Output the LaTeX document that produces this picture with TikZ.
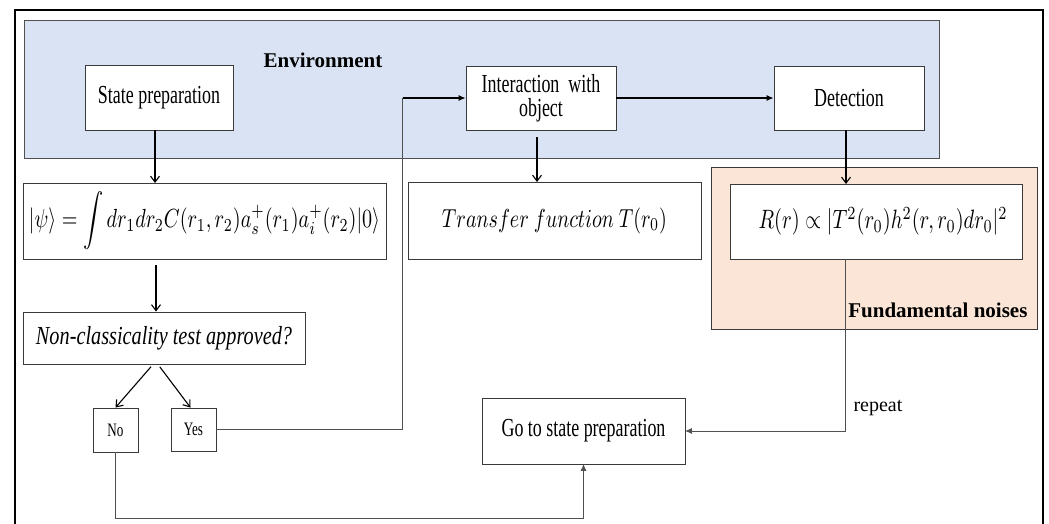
\documentclass[tikz,border=0pt]{standalone}
\usepackage{amsmath}
\usepackage{fontspec}
\setmainfont{Liberation Serif}
\newfontfamily\nserif[FakeStretch=0.69]{Liberation Serif}
\newfontfamily\iserif[FakeStretch=0.78]{Liberation Serif}
\usetikzlibrary{arrows.meta}
\definecolor{envblue}{HTML}{DAE3F3}
\definecolor{peach}{HTML}{FBE5D6}
\definecolor{edge}{HTML}{3A3A3A}
\definecolor{thin}{HTML}{505050}
\tikzset{
  box/.style={draw=edge, line width=0.9pt, fill=white, inner sep=0pt, align=center},
  txt/.style={font=\fontsize{26}{27}\selectfont\nserif},
  small/.style={font=\fontsize{19}{20}\selectfont\nserif},
  bold/.style={font=\fontsize{21}{23}\selectfont\bfseries},
  solidarrow/.style={line width=1.1pt, draw=black, -{Latex[length=7pt,width=6pt]}},
  vee/.style={line width=1.1pt, draw=black, -{Straight Barb[length=6pt,width=9pt,line width=1.1pt]}},
  thinline/.style={line width=0.9pt, draw=thin},
  thinarrow/.style={line width=0.9pt, draw=thin, -{Latex[length=7pt,width=6pt]}, shorten >=-0.5pt},
}
\begin{document}
\begin{tikzpicture}[x=1pt,y=-1pt]
\clip (0,0) rectangle (1049,524);
\useasboundingbox (0,0) rectangle (1049,524);
\fill[white] (0,0) rectangle (1049,524);
% outer frame
\draw[line width=2pt] (15,10) rectangle (1043,540);
% regions
\node[draw=thin, line width=0.9pt, fill=envblue, minimum width=915pt, minimum height=138pt, inner sep=0pt] (env) at (481.5,89) {};
\node[draw=edge, line width=0.9pt, fill=peach, minimum width=326pt, minimum height=162pt, inner sep=0pt] (noise) at (874,248) {};
\node[bold, anchor=center] (envlab) at (323,60) {Environment};
\node[bold, anchor=east] (noiselab) at (1031,310) {Fundamental noises};
% boxes
\node[box, txt, minimum width=148pt, minimum height=65pt] (sp) at (159,97.5) {State preparation};
\node[box, txt, minimum width=150pt, minimum height=64pt] (inter) at (541,98) {Interaction\ \ with\\[-3pt]object};
\node[box, txt, minimum width=150pt, minimum height=64pt] (det) at (849,98) {Detection};
\node[box, minimum width=363pt, minimum height=76pt] (psi) at (204.5,221)
  {\scalebox{1}[1.3]{\resizebox{351pt}{!}{$\displaystyle |\psi\rangle = \int dr_1 dr_2 C(r_1,r_2) a_s^+(r_1) a_i^+(r_2)|0\rangle$}}};
\node[box, minimum width=293pt, minimum height=77pt] (tf) at (554.5,220.5)
  {\scalebox{1}[1.3]{\resizebox{225pt}{!}{$Transfer\ function\ T(r_0)$}}};
\node[box, minimum width=292pt, minimum height=75pt] (rbox) at (876,221.5)
  {\hspace{14pt}\scalebox{1}[1.3]{\resizebox{249pt}{!}{$R(r)\propto |T^2(r_0)h^2(r,r_0)dr_0|^2$}}};
\node[box, minimum width=282pt, minimum height=52pt] (nc) at (164,338)
  {\fontsize{26}{27}\selectfont\iserif\itshape Non-classicality test approved?};
\node[box, small, minimum width=45pt, minimum height=44pt] (no) at (115.5,430) {No};
\node[box, small, minimum width=45pt, minimum height=43pt] (yes) at (193.5,429.5) {Yes};
\node[box, txt, minimum width=203pt, minimum height=66pt] (go) at (583.5,431) {Go to state preparation};
\node[font=\fontsize{20}{22}\selectfont, anchor=west] (rep) at (850,408) {repeat};
% connectors
\draw[solidarrow] (inter.east) -- (det.west);
\draw[thinline] (yes.east) -| ([xshift=-63pt]inter.west);
\draw[solidarrow] ([xshift=-63pt]inter.west) -- (inter.west);
\draw[vee] (sp.south -| 155,0) -- (155,183);
\draw[vee, shorten <=7pt] (inter.south -| 537,0) -- (537,182);
\draw[vee] (det.south -| 846,0) -- (846,184);
\draw[vee, shorten <=6pt] (156,259) -- (nc.north -| 156,0);
\draw[vee, shorten <=3pt] ([xshift=-11pt]nc.south) -- (no.north);
\draw[vee, shorten <=3pt] ([xshift=-6pt]nc.south) -- ([xshift=-3pt]yes.north);
\draw[thinarrow] (no.south) |- ([yshift=-54pt]go.south) -- (go.south);
\draw[thinarrow] ([xshift=-31pt]rbox.south) |- (go.east);
\end{tikzpicture}
\end{document}
